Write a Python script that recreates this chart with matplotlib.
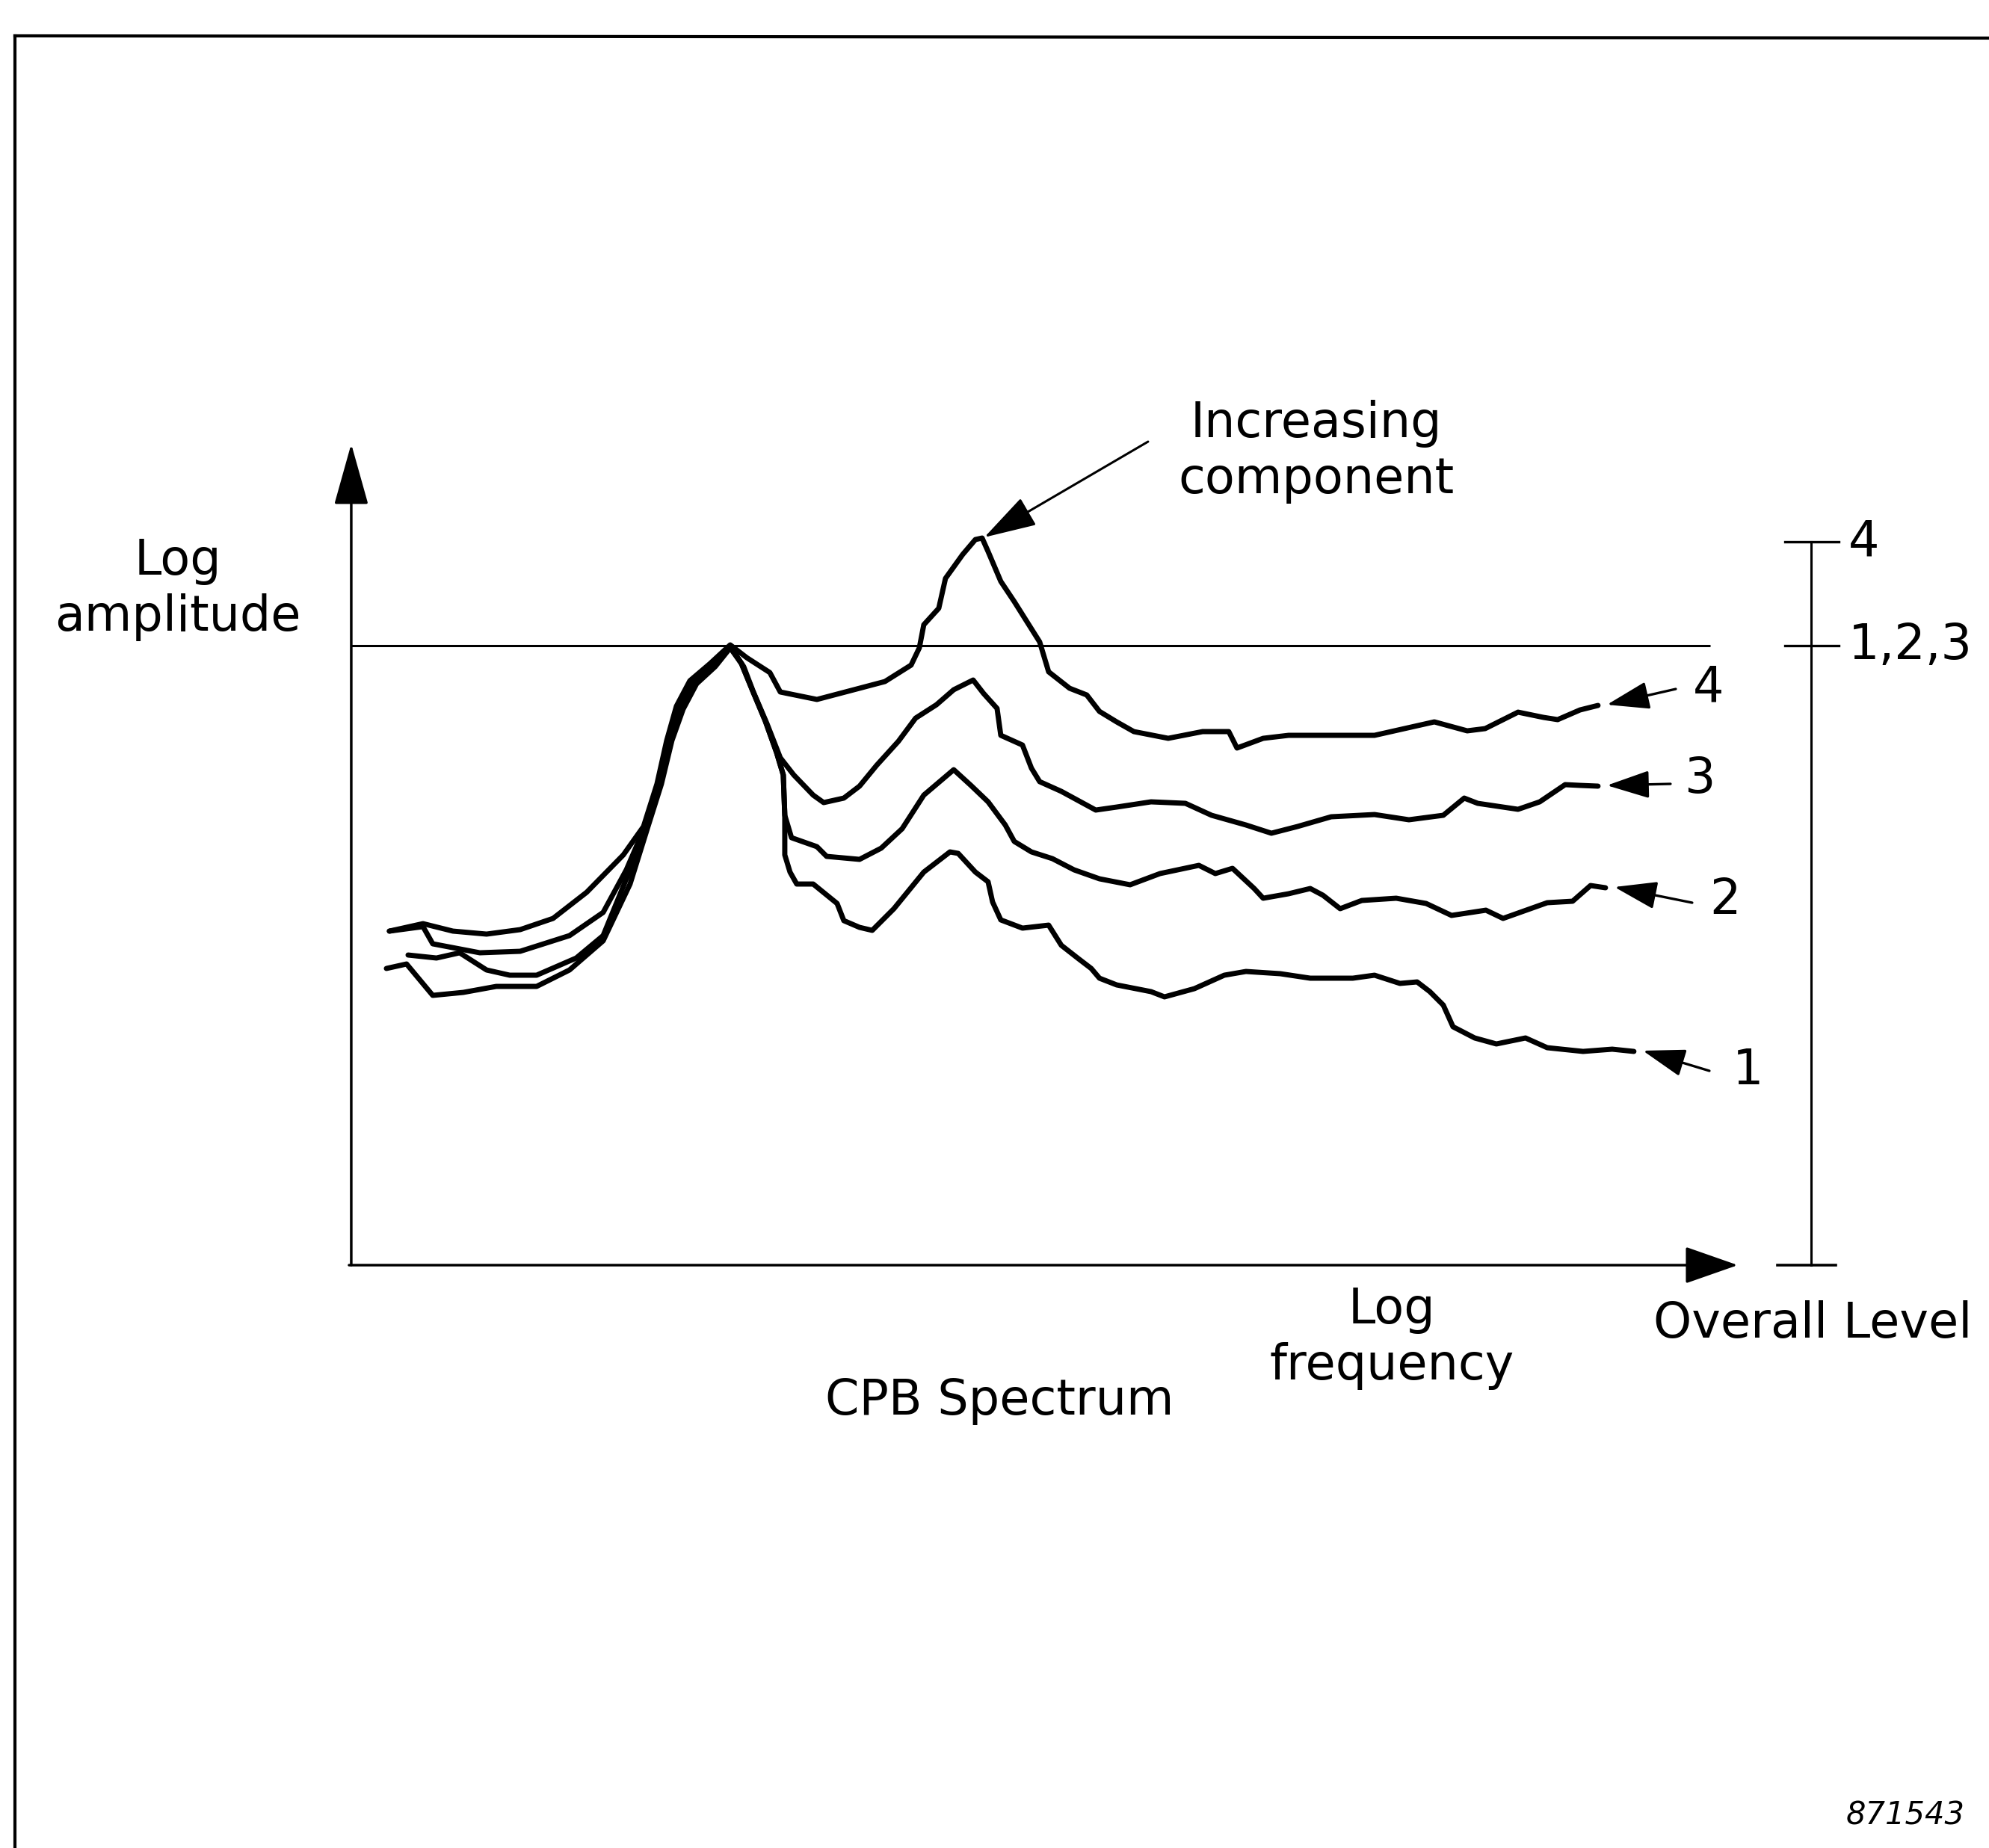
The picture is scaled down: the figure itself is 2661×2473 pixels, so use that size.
import matplotlib
matplotlib.use("Agg")
import matplotlib.pyplot as plt
from matplotlib.lines import Line2D

plt.rcParams['font.family'] = ['DejaVu Sans']

# CPB spectra: log frequency (x) vs log amplitude (y), arbitrary units
curve1_x = [4.7, 7.4, 10.9, 15.0, 19.4, 24.8, 29.2, 33.7, 37.3, 39.7, 41.5, 42.9, 44.4, 46.2, 48.7, 50.7,
            52.2, 53.6, 55.4, 56.9, 57.8, 58.0, 58.0, 58.7, 59.6, 61.8, 65.0, 65.9, 68.0, 69.7, 72.6, 76.6,
            80.1, 81.2, 83.5, 85.2, 85.8, 86.9, 89.8, 93.3, 95.0, 97.3, 99.0, 100.1, 102.4, 107.0, 108.8,
            112.8, 116.8, 119.7, 124.3, 128.3, 134.0, 136.9, 140.3, 142.6, 144.3, 146.1, 147.4, 150.3,
            153.2, 157.1, 160.0, 164.8, 168.7, 171.6]
curve1_y = [39.7, 40.3, 36.1, 36.5, 37.3, 37.3, 39.5, 43.4, 51.0, 58.7, 64.4, 70.2, 74.4, 77.8, 80.1, 82.6,
            80.5, 77.1, 72.8, 68.6, 65.6, 60.2, 54.9, 52.6, 51.0, 51.0, 48.4, 46.1, 45.2, 44.8, 47.7, 52.6,
            55.3, 55.1, 52.6, 51.3, 48.6, 46.2, 45.1, 45.5, 42.8, 41.0, 39.7, 38.4, 37.5, 36.6, 35.9,
            37.0, 38.8, 39.3, 39.0, 38.4, 38.4, 38.8, 37.7, 37.9, 36.6, 34.8, 31.9, 30.4,
            29.6, 30.4, 29.1, 28.6, 28.9, 28.6]

curve2_x = [7.6, 11.4, 14.5, 18.1, 21.2, 24.8, 30.1, 33.7, 37.3, 39.5, 41.3, 42.6, 44.2, 46.0, 48.4, 50.7,
            52.2, 53.6, 55.4, 56.9, 57.8, 58.0, 58.9, 62.3, 63.6, 68.0, 70.9, 73.7, 76.6, 80.6, 82.9, 85.2,
            87.5, 88.7, 91.0, 93.8, 96.7, 100.1, 104.2, 108.2, 113.4, 115.6, 117.9, 120.8, 122.0, 125.4,
            128.3, 130.0, 132.3, 135.2, 139.8, 143.8, 147.2, 151.8, 154.1, 160.0, 163.4, 165.8, 167.8]
curve2_y = [41.5, 41.1, 41.8, 39.5, 38.8, 38.8, 41.1, 44.1, 52.9, 58.7, 64.4, 70.2, 74.6, 78.0, 80.3, 82.8,
            80.5, 77.1, 72.8, 68.6, 65.6, 60.2, 57.2, 56.0, 54.7, 54.3, 55.8, 58.4, 62.9, 66.3, 64.2, 62.0,
            58.9, 56.7, 55.3, 54.4, 52.9, 51.7, 50.9, 52.4, 53.5, 52.4, 53.1, 50.4, 49.1, 49.7,
            50.4, 49.5, 47.7, 48.8, 49.1, 48.4, 46.8, 47.5, 46.4, 48.5, 48.7, 50.8, 50.5]

curve3_x = [5.1, 9.6, 10.9, 17.2, 22.6, 29.2, 33.7, 36.8, 39.3, 41.1, 42.4, 44.0, 45.8, 48.2, 50.7,
            52.5, 53.8, 55.6, 57.4, 59.2, 61.8, 63.2, 65.9, 68.0, 70.3, 73.2, 75.5, 78.3, 80.6, 83.2, 84.6,
            86.4, 86.9, 89.8, 91.0, 92.1, 95.0, 99.6, 102.4, 107.0, 111.6, 115.1, 119.7, 123.1, 126.6,
            131.1, 136.9, 141.5, 146.1, 148.9, 150.7, 156.1, 159.0, 162.4, 164.4, 166.8]
curve3_y = [44.7, 45.3, 43.0, 41.8, 42.0, 44.1, 47.2, 52.9, 58.7, 64.4, 70.2, 74.8, 78.2, 80.3, 82.8,
            80.1, 76.7, 72.5, 67.9, 65.6, 62.9, 61.9, 62.5, 64.1, 66.9, 70.1, 73.2, 75.0, 77.0, 78.3, 76.5,
            74.5, 70.9, 69.6, 66.5, 64.7, 63.4, 60.9, 61.3, 62.0, 61.8, 60.2, 58.9, 57.8, 58.7,
            60.0, 60.3, 59.6, 60.2, 62.5, 61.8, 61.0, 62.0, 64.3, 64.2, 64.1]

curve4_x = [5.1, 9.6, 13.6, 18.1, 22.6, 27.0, 31.5, 36.4, 39.1, 40.9, 42.2, 43.5, 45.3, 48.0, 50.7,
            52.9, 56.0, 57.4, 62.3, 68.0, 71.4, 74.9, 76.0, 76.6, 78.6, 79.5, 81.8, 83.5, 84.4, 85.2,
            86.9, 88.7, 90.4, 92.1, 93.3, 96.1, 98.4, 100.1, 102.4, 104.7, 109.3, 113.9, 117.4, 118.5,
            122.0, 125.4, 136.9, 144.9, 149.3, 151.7, 156.1, 159.5, 161.4, 164.4, 166.8]
curve4_y = [44.7, 45.7, 44.7, 44.3, 44.9, 46.4, 49.9, 54.9, 58.7, 64.4, 70.2, 74.8, 78.2, 80.5, 83.0,
            81.3, 79.3, 76.7, 75.7, 77.2, 78.1, 80.3, 82.6, 85.7, 87.9, 91.9, 95.1, 97.1, 97.3, 95.5,
            91.5, 88.8, 86.1, 83.4, 79.4, 77.2, 76.3, 74.1, 72.7, 71.4, 70.5, 71.4, 71.4, 69.2,
            70.5, 70.9, 70.9, 72.7, 71.5, 71.8, 74.0, 73.3, 73.0, 74.3, 74.9]

curve_labels = ['1', '2', '3', '4']
reference_level = 82.9
overall_levels = [82.9, 82.9, 82.9, 96.8]  # overall level of spectra 1..4
overall_tick_labels = ['1,2,3', '4']

curves = [(curve1_x, curve1_y), (curve2_x, curve2_y), (curve3_x, curve3_y), (curve4_x, curve4_y)]

fig = plt.figure(figsize=(26.61, 24.73), dpi=100)
ax = fig.add_axes([0.1766, 0.3154, 0.6971, 0.4444])
ax.set_xlim(0, 185.5)
ax.set_ylim(0, 109.9)
ax.axis('off')

FS = 47
LS = 1.22

# outer frame (left and top edges only)
fig.add_artist(Line2D([0.0075, 0.0075], [0.0, 0.9806], color='black', lw=3))
fig.add_artist(Line2D([0.0075, 1.0], [0.9806, 0.9794], color='black', lw=3))

# axes with arrows
ax.annotate('', xy=(0, 109.9), xytext=(0, 0),
            arrowprops=dict(arrowstyle='-|>,head_length=1.0,head_width=0.28', mutation_scale=52,
                            lw=2.5, color='black', shrinkA=0, shrinkB=0), annotation_clip=False)
ax.annotate('', xy=(185.5, 0), xytext=(-0.3, 0),
            arrowprops=dict(arrowstyle='-|>,head_length=1.0,head_width=0.35', mutation_scale=45,
                            lw=2.5, color='black', shrinkA=0, shrinkB=0), annotation_clip=False)

# reference level line
ax.plot([0, 181.8], [reference_level, reference_level], color='black', lw=2.2, solid_capstyle='butt')

# spectra
for xs, ys in curves:
    ax.plot(xs, ys, color='black', lw=5.0, solid_joinstyle='round', solid_capstyle='round')

# curve labels with arrows
label_offsets = [(10.1, -2.6, 15.3, -2.6), (11.6, -2.0, 16.0, -1.7), (9.7, 0.3, 13.6, 0.9), (10.4, 2.2, 14.8, 2.4)]
for (xs, ys), lab, (tx, ty, lx, ly) in zip(curves, curve_labels, label_offsets):
    x_end, y_end = xs[-1], ys[-1]
    ax.annotate('', xy=(x_end + 1.2, y_end + 0.1), xytext=(x_end + tx, y_end + ty),
                arrowprops=dict(arrowstyle='-|>,head_length=1.1,head_width=0.36', mutation_scale=32,
                                lw=2.4, color='black', shrinkA=0, shrinkB=0), annotation_clip=False)
    ax.text(x_end + lx, y_end + ly, lab, fontsize=FS, ha='center', va='center', clip_on=False)

# increasing component annotation
peak_i = max(range(len(curve4_x)), key=lambda k: curve4_y[k] if curve4_x[k] > 70 else -1)
ax.annotate('', xy=(curve4_x[peak_i] + 0.3, curve4_y[peak_i] + 0.1), xytext=(106.6, 110.2),
            arrowprops=dict(arrowstyle='-|>,head_length=1.0,head_width=0.3', mutation_scale=44,
                            lw=2.2, color='black', shrinkA=0, shrinkB=0), annotation_clip=False)
ax.text(129.1, 108.9, 'Increasing\ncomponent', fontsize=FS, ha='center', va='center',
        linespacing=LS, clip_on=False)

# overall level scale
scale_x = 195.3
ax.plot([scale_x, scale_x], [0, max(overall_levels)], color='black', lw=2.2, clip_on=False)
ax.plot([190.8, 198.6], [0, 0], color='black', lw=2.6, clip_on=False)
for lev, lab in zip(sorted(set(overall_levels)), overall_tick_labels):
    ax.plot([191.8, 199.0], [lev, lev], color='black', lw=2.4, clip_on=False)
    ax.text(200.3, lev, lab, fontsize=FS, ha='left', va='center', clip_on=False)

# axis titles
ax.text(-23.2, 90.5, 'Log\namplitude', fontsize=FS, ha='center', va='center', linespacing=LS,
        clip_on=False)
ax.text(139.2, -9.7, 'Log\nfrequency', fontsize=FS, ha='center', va='center', linespacing=LS,
        clip_on=False)
ax.text(195.5, -7.9, 'Overall Level', fontsize=FS, ha='center', va='center', clip_on=False)
ax.text(86.7, -18.2, 'CPB Spectrum', fontsize=FS, ha='center', va='center', clip_on=False)

fig.text(0.958, 0.0174, '871543', fontsize=30, style='italic', ha='center', va='center')

fig.savefig('out.png', dpi=100, facecolor='white')
